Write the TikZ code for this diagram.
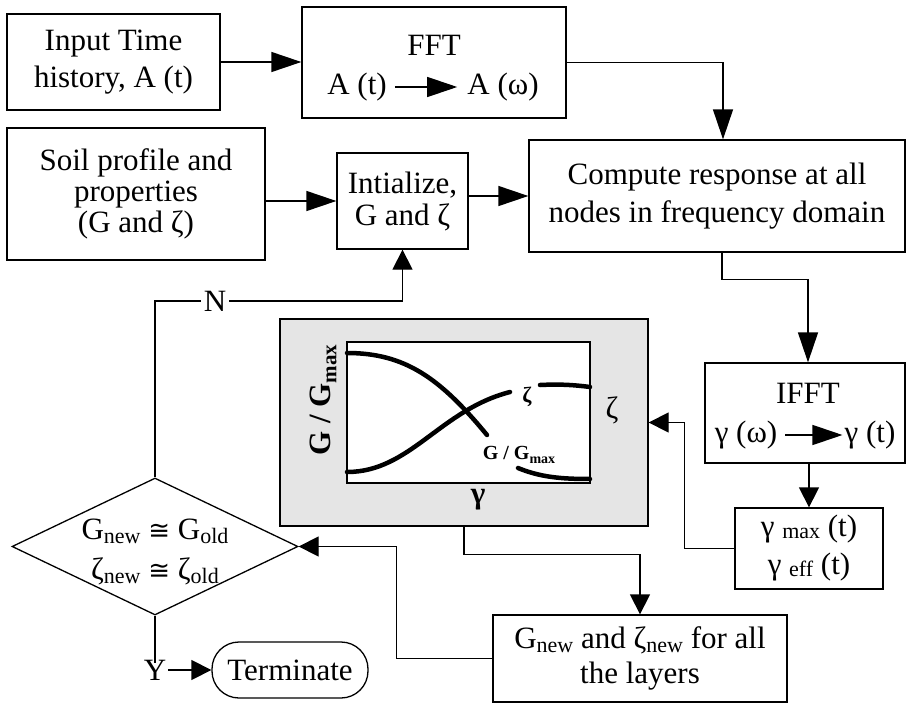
\documentclass[tikz,border=0pt]{standalone}
\usepackage{fontspec}
\setmainfont{Liberation Serif}
\newfontfamily\symf{DejaVu Sans}
\usetikzlibrary{arrows.meta,shapes.geometric}
\newcommand{\fs}{\fontsize{31}{37}\selectfont}
\newcommand{\sbx}[1]{\raisebox{-0.12em}{\fontsize{22}{22}\selectfont #1}}
\newcommand{\cng}{{\symf\fontsize{26}{26}\selectfont ≅}}
\tikzset{
  box/.style={draw, line width=1.3pt, inner sep=0pt, align=center, font=\fs},
  big/.style={line width=1.3pt, -{Triangle[length=30pt,width=20pt]}},
  small/.style={line width=1.3pt, -{Triangle[length=20pt,width=20pt]}},
  ln/.style={line width=1.3pt},
  lbl/.style={inner sep=0pt, font=\fs},
  crv/.style={line width=4.5pt, line cap=round},
}
\begin{document}
\begin{tikzpicture}[x=1pt,y=-1pt]
\useasboundingbox (0,0) rectangle (906,704);
% boxes
\node[box, minimum width=213pt, minimum height=96pt] (inp) at (113.5,62) {Input Time\\history, A (t)};
\node[box, minimum width=264pt, minimum height=111pt] (fft) at (434,62.5) {};
\node[lbl] (fftt) at (434,45) {FFT};
\node[lbl] (at) at (357,87) {A (t)};
\node[lbl] (aw) at (503,87) {A (ω)};
\draw[big] ([xshift=8pt]at.east) -- ([xshift=-10pt]aw.west);
\node[box, minimum width=258pt, minimum height=132pt, font=\fontsize{31}{31}\selectfont] (soil) at (136,194) {Soil profile and\\properties\\(G and ζ)};
\node[box, minimum width=131pt, minimum height=96pt, font=\fontsize{31}{32}\selectfont] (init) at (402.5,201) {Intialize,\\G and ζ};
\node[box, minimum width=376pt, minimum height=112pt, font=\fontsize{31}{38}\selectfont] (comp) at (717,196) {Compute response at all\\nodes in frequency domain};
\node[box, minimum width=200pt, minimum height=100pt] (ifft) at (805,413) {};
\node[lbl] (iffft) at (808,393) {IFFT};
\node[lbl] (gw) at (746,435) {γ (ω)};
\node[lbl] (gt) at (870,435) {γ (t)};
\draw[big] ([xshift=8pt]gw.east) -- ([xshift=-2pt]gt.west);
\node[box, minimum width=148pt, minimum height=81pt, font=\fontsize{31}{38}\selectfont] (gam) at (809,548.5) {γ \raisebox{-0.05em}{\fontsize{22}{22}\selectfont max} (t)\\γ \raisebox{-0.05em}{\fontsize{22}{22}\selectfont eff} (t)};
% gray plot box
\node[draw, line width=1.3pt, fill=gray!20, minimum width=368pt, minimum height=207pt, inner sep=0pt] (gray) at (464,422.5) {};
\node[draw, line width=2.5pt, fill=white, minimum width=243pt, minimum height=141pt, inner sep=0pt] (plot) at (468.5,412.5) {};
\draw[crv] (347,353) .. controls (405,353) and (440,378) .. (487,435);
\draw[crv] (347,472) .. controls (410,472) and (440,410) .. (510,392);
\draw[crv] (540,385) .. controls (560,384) and (575,385) .. (590,387);
\draw[crv] (518,468) .. controls (540,477) and (560,479) .. (590,479);
\node[inner sep=0pt, font=\bfseries\fontsize{22}{22}\selectfont] (zs) at (527,397) {ζ};
\node[inner sep=0pt, font=\bfseries\fontsize{20}{20}\selectfont] (ggs) at (519,455) {G / G\raisebox{-0.2em}{\fontsize{14}{14}\selectfont max}};
\node[inner sep=0pt, rotate=90, font=\bfseries\fontsize{31}{31}\selectfont] (gl) at (323,400) {G / G\raisebox{-0.2em}{\fontsize{21}{21}\selectfont max}};
\node[lbl] (zr) at (612,410) {ζ};
\node[inner sep=0pt, font=\bfseries\fontsize{31}{31}\selectfont] (gml) at (478,500) {γ};
% lower boxes
\node[box, minimum width=294pt, minimum height=87pt, font=\fontsize{31}{35}\selectfont] (gnew) at (640,658.5) {G\sbx{new} and ζ\sbx{new} for all\\the layers};
\node[draw, line width=1.3pt, shape=diamond, minimum width=286pt, minimum height=137pt, inner sep=0pt] (dia) at (155,546.5) {};
\node[inner sep=0pt, align=center, font=\fontsize{31}{40}\selectfont] (diat) at (155,552) {G\sbx{new} \cng{} G\sbx{old}\\ζ\sbx{new} \cng{} ζ\sbx{old}};
\node[draw, line width=1.3pt, rounded corners=27pt, minimum width=156pt, minimum height=56pt, inner sep=0pt, font=\fs] (term) at (290,670) {Terminate};
\node[lbl] (N) at (215,301) {N};
\node[lbl] (Y) at (155,670) {Y};
% connectors
\draw[big] (inp.east) -- (inp.east -| fft.west);
\draw[big] (fft.east) -| ([xshift=6pt]comp.north);
\draw[big] (init.west -| soil.east) -- (init.west);
\draw[big] (comp.west -| init.east) -- (comp.west);
\draw[big] ([xshift=5pt]comp.south) -- ++(0,27) -| ([xshift=3pt]ifft.north);
\draw[small] (gam.north |- ifft.south) -- (gam.north);
\draw[small] (gam.west) -- ++(-50,0) |- (gray.east);
\draw[small] (gray.south) -- ++(0,28) -| (gnew.north);
\draw[small] (gnew.west) -- ++(-96,0) |- (dia.east);
\draw[ln] (dia.north) |- ([xshift=-3pt]N.west);
\draw[small] ([xshift=3pt]N.east) -| (init.south);
\draw[ln] (dia.south) -- ([yshift=-3pt]Y.north);
\draw[small] ([xshift=2pt]Y.east) -- (term.west);
\end{tikzpicture}
\end{document}
